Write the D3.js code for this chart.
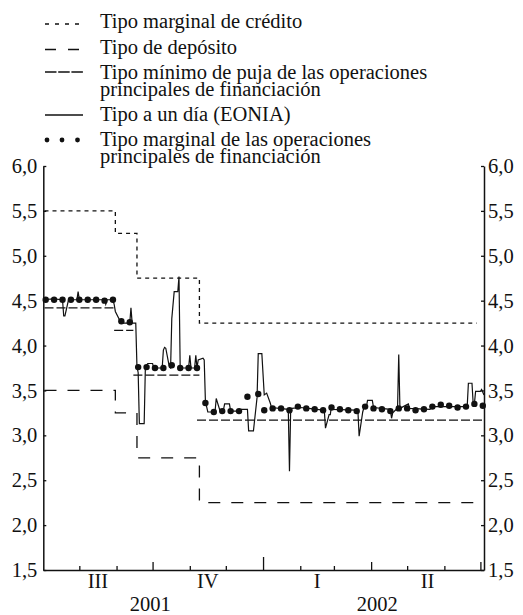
<!DOCTYPE html>
<html>
<head>
<meta charset="utf-8">
<script src="https://cdn.jsdelivr.net/npm/d3@7"></script>
<style>
  body { margin: 0; background: #fff; }
  svg text { font-family: "Liberation Serif", "Times New Roman", serif; font-size: 20.5px; fill: #111; }
</style>
</head>
<body>
<script>

// ---- data ----

// official rates: date of change and level (step lines)
var rateDates = ["2001-07-03", "2001-08-31", "2001-09-18", "2001-11-09", "2002-06-28"];
var lendingRate = [5.50, 5.25, 4.75, 4.25, 4.25];   // tipo marginal de crédito
var depositRate = [3.50, 3.25, 2.75, 2.25, 2.25];   // tipo de depósito

// minimum bid rate, drawn as separate horizontal pieces
var bidStart = ["2001-07-03", "2001-08-30", "2001-09-15", "2001-11-07"];
var bidEnd   = ["2001-08-30", "2001-09-15", "2001-11-09", "2002-07-04"];
var bidRate  = [4.42, 4.17, 3.67, 3.17];

// EONIA (daily, only the turning points)
var eonia = [
  ["2001-07-02", 4.51], ["2001-07-10", 4.52], ["2001-07-18", 4.51], ["2001-07-19", 4.33],
  ["2001-07-20", 4.33], ["2001-07-23", 4.51], ["2001-07-30", 4.51], ["2001-07-31", 4.60],
  ["2001-08-01", 4.51], ["2001-08-22", 4.51], ["2001-08-23", 4.46], ["2001-08-24", 4.51],
  ["2001-08-29", 4.51], ["2001-08-30", 4.46], ["2001-08-31", 4.38], ["2001-09-03", 4.30],
  ["2001-09-04", 4.25], ["2001-09-12", 4.25], ["2001-09-13", 4.42], ["2001-09-14", 4.25],
  ["2001-09-17", 4.25], ["2001-09-18", 3.76], ["2001-09-19", 3.70], ["2001-09-20", 3.13],
  ["2001-09-24", 3.13], ["2001-09-25", 3.76], ["2001-09-27", 3.80], ["2001-10-01", 3.80],
  ["2001-10-02", 3.75], ["2001-10-09", 3.75], ["2001-10-10", 3.95], ["2001-10-11", 3.98],
  ["2001-10-12", 3.97], ["2001-10-15", 3.76], ["2001-10-16", 3.75], ["2001-10-17", 4.30],
  ["2001-10-18", 4.45], ["2001-10-19", 4.60], ["2001-10-22", 4.60], ["2001-10-23", 4.77],
  ["2001-10-24", 3.75], ["2001-10-31", 3.75], ["2001-11-01", 3.89], ["2001-11-02", 3.75],
  ["2001-11-05", 3.75], ["2001-11-06", 3.89], ["2001-11-07", 3.75], ["2001-11-08", 3.84],
  ["2001-11-12", 3.86], ["2001-11-13", 3.84], ["2001-11-14", 3.38], ["2001-11-15", 3.32],
  ["2001-11-16", 3.26], ["2001-11-22", 3.26], ["2001-11-23", 3.41], ["2001-11-26", 3.28],
  ["2001-11-29", 3.28], ["2001-11-30", 3.35], ["2001-12-04", 3.35], ["2001-12-05", 3.27],
  ["2001-12-13", 3.27], ["2001-12-14", 3.29], ["2001-12-19", 3.29], ["2001-12-20", 3.05],
  ["2001-12-24", 3.05], ["2001-12-27", 3.42], ["2001-12-28", 3.91], ["2001-12-31", 3.91],
  ["2002-01-02", 3.45], ["2002-01-04", 3.47], ["2002-01-07", 3.36], ["2002-01-08", 3.31],
  ["2002-01-22", 3.29], ["2002-01-23", 2.60], ["2002-01-24", 3.28], ["2002-01-25", 3.30],
  ["2002-02-01", 3.31], ["2002-02-08", 3.30], ["2002-02-15", 3.29], ["2002-02-21", 3.28],
  ["2002-02-22", 3.08], ["2002-02-25", 3.23], ["2002-02-26", 3.23], ["2002-02-27", 3.33],
  ["2002-02-28", 3.29], ["2002-03-19", 3.28], ["2002-03-21", 3.27], ["2002-03-22", 2.99],
  ["2002-03-25", 3.26], ["2002-03-26", 3.31], ["2002-03-28", 3.31], ["2002-03-29", 3.39],
  ["2002-04-02", 3.39], ["2002-04-03", 3.31], ["2002-04-17", 3.29], ["2002-04-18", 3.19],
  ["2002-04-19", 3.25], ["2002-04-22", 3.29], ["2002-04-23", 3.30], ["2002-04-24", 3.90],
  ["2002-04-25", 3.30], ["2002-05-02", 3.35], ["2002-05-03", 3.30], ["2002-05-20", 3.29],
  ["2002-05-22", 3.32], ["2002-06-20", 3.32], ["2002-06-21", 3.58], ["2002-06-24", 3.58],
  ["2002-06-25", 3.35], ["2002-06-26", 3.35], ["2002-06-27", 3.49], ["2002-07-01", 3.49],
  ["2002-07-02", 3.51], ["2002-07-04", 3.45]
];

// marginal rate of the main refinancing operations (weekly)
var mroDates = [
  "2001-07-04", "2001-07-11", "2001-07-18", "2001-07-25", "2001-08-01", "2001-08-08",
  "2001-08-15", "2001-08-22", "2001-08-29", "2001-09-05", "2001-09-12", "2001-09-19",
  "2001-09-26", "2001-10-03", "2001-10-10", "2001-10-17", "2001-10-24", "2001-10-31",
  "2001-11-07", "2001-11-14", "2001-11-21", "2001-11-28", "2001-12-05", "2001-12-12",
  "2001-12-19", "2001-12-28",
  "2002-01-02", "2002-01-09", "2002-01-16", "2002-01-23", "2002-01-30", "2002-02-06",
  "2002-02-13", "2002-02-20", "2002-02-27", "2002-03-06", "2002-03-13", "2002-03-20",
  "2002-03-27", "2002-04-03", "2002-04-10", "2002-04-17", "2002-04-24", "2002-05-01",
  "2002-05-08", "2002-05-15", "2002-05-22", "2002-05-29", "2002-06-05", "2002-06-12",
  "2002-06-19", "2002-06-26", "2002-07-03"
];
var mroRate = [
  4.51, 4.51, 4.51, 4.51, 4.51, 4.51,
  4.51, 4.50, 4.51, 4.27, 4.26, 3.76,
  3.76, 3.75, 3.75, 3.78, 3.75, 3.75,
  3.75, 3.36, 3.26, 3.27, 3.27, 3.27,
  3.43, 3.46,
  3.28, 3.30, 3.30, 3.28, 3.32, 3.30,
  3.29, 3.28, 3.31, 3.29, 3.28, 3.27,
  3.32, 3.30, 3.29, 3.27, 3.30, 3.30,
  3.28, 3.29, 3.32, 3.34, 3.33, 3.31,
  3.32, 3.35, 3.33
];

var yTicks = [1.5, 2.0, 2.5, 3.0, 3.5, 4.0, 4.5, 5.0, 5.5, 6.0];
var quarterLabels = ["III", "IV", "I", "II"];
var quarterStarts = ["2001-07-02", "2001-10-01", "2002-01-01", "2002-04-01", "2002-07-04"];
var yearLabels = ["2001", "2002"];
var yearCenters = ["2001-09-29", "2002-04-06"];

var legendText = [
  ["Tipo marginal de crédito"],
  ["Tipo de depósito"],
  ["Tipo mínimo de puja de las operaciones", "principales de financiación"],
  ["Tipo a un día (EONIA)"],
  ["Tipo marginal de las operaciones", "principales de financiación"]
];

// ---- layout ----
var width = 523, height = 615;
var plotLeft = 43.3, plotRight = 484, plotTop = 166, plotBottom = 570;
var ink = "#111";

var parse = d3.timeParse("%Y-%m-%d");

var x = d3.scaleTime()
          .domain([parse("2001-07-02"), parse("2002-07-04")])
          .range([plotLeft, plotRight]);

var y = d3.scaleLinear()
          .domain([1.5, 6])
          .range([plotBottom, plotTop]);

var svg = d3.select("body")
            .append("svg")
            .attr("width", width)
            .attr("height", height);

var fmt = function(d) { return d3.format(".1f")(d).replace(".", ","); };

function styleAxis(g) {
    g.select(".domain").attr("stroke", ink).attr("stroke-width", 1.5);
    g.selectAll(".tick line").attr("stroke", ink).attr("stroke-width", 1.3);
    g.selectAll("text").attr("font-size", null).attr("font-family", null).attr("fill", ink);
}

// left axis, ticks point inward
svg.append("g")
   .attr("transform", "translate(" + plotLeft + ",0)")
   .call(d3.axisLeft(y).tickValues(yTicks).tickSizeInner(-3).tickSizeOuter(0).tickPadding(6).tickFormat(fmt))
   .call(styleAxis);

// right axis
svg.append("g")
   .attr("transform", "translate(" + plotRight + ",0)")
   .call(d3.axisRight(y).tickValues(yTicks).tickSizeInner(-3).tickSizeOuter(0).tickPadding(4).tickFormat(fmt))
   .call(styleAxis);

// bottom axis: monthly ticks, longer at quarters and at the new year
var months = d3.timeMonth.range(parse("2001-08-01"), parse("2002-07-02"));
svg.append("g")
   .attr("transform", "translate(0," + plotBottom + ")")
   .call(d3.axisBottom(x).tickValues(months).tickSizeInner(-4).tickSizeOuter(0).tickFormat(""))
   .call(styleAxis)
   .call(function(g) {
       g.selectAll(".tick line")
        .attr("y2", function(d) {
            if (d.getMonth() == 0) return -13;
            if (d.getMonth() % 3 == 0) return -8;
            return -4;
        });
   });

// quarter and year labels
svg.selectAll("text.quarter")
   .data(quarterLabels)
   .enter()
   .append("text")
   .attr("class", "quarter")
   .attr("text-anchor", "middle")
   .attr("x", function(d, i) { return (x(parse(quarterStarts[i])) + x(parse(quarterStarts[i + 1]))) / 2; })
   .attr("y", 588)
   .text(function(d) { return d; });

svg.selectAll("text.year")
   .data(yearLabels)
   .enter()
   .append("text")
   .attr("class", "year")
   .attr("text-anchor", "middle")
   .attr("x", function(d, i) { return x(parse(yearCenters[i])); })
   .attr("y", 611)
   .text(function(d) { return d; });

// ---- series ----
var step = d3.line()
             .x(function(d) { return x(d[0]); })
             .y(function(d) { return y(d[1]); })
             .curve(d3.curveStepAfter);

var lendingData = rateDates.map(function(d, i) { return [parse(d), lendingRate[i]]; });
var depositData = rateDates.map(function(d, i) { return [parse(d), depositRate[i]]; });

svg.append("path")
   .datum(lendingData)
   .attr("d", step)
   .attr("fill", "none")
   .attr("stroke", ink)
   .attr("stroke-width", 1.3)
   .attr("stroke-dasharray", "4,4");

svg.append("path")
   .datum(depositData)
   .attr("d", step)
   .attr("fill", "none")
   .attr("stroke", ink)
   .attr("stroke-width", 1.3)
   .attr("stroke-dasharray", "12,11");

svg.selectAll("line.bid")
   .data(bidRate)
   .enter()
   .append("line")
   .attr("class", "bid")
   .attr("x1", function(d, i) { return x(parse(bidStart[i])); })
   .attr("x2", function(d, i) { return x(parse(bidEnd[i])); })
   .attr("y1", function(d) { return y(d); })
   .attr("y2", function(d) { return y(d); })
   .attr("stroke", ink)
   .attr("stroke-width", 1.3)
   .attr("stroke-dasharray", "9,3");

var eoniaLine = d3.line()
                  .x(function(d) { return x(parse(d[0])); })
                  .y(function(d) { return y(d[1]); });

svg.append("path")
   .datum(eonia)
   .attr("d", eoniaLine)
   .attr("fill", "none")
   .attr("stroke", ink)
   .attr("stroke-width", 1.2);

svg.selectAll("circle.mro")
   .data(mroRate)
   .enter()
   .append("circle")
   .attr("class", "mro")
   .attr("cx", function(d, i) { return x(parse(mroDates[i])); })
   .attr("cy", function(d) { return y(d); })
   .attr("r", 3.2)
   .style("fill", ink);

// ---- legend ----
var lx1 = 45, lx2 = 83, tx = 100;
var sampleY = [24, 49.5, 72, 115, 140];
var textY = [[28], [53.5], [78.5, 95.5], [120.5], [146, 163]];
var sampleDash = ["4,6", "11,12", "11.5,1.7", null];

var legend = svg.append("g").attr("class", "legend");

sampleDash.forEach(function(dash, i) {
    legend.append("line")
          .attr("x1", lx1).attr("x2", lx2)
          .attr("y1", sampleY[i]).attr("y2", sampleY[i])
          .attr("stroke", ink)
          .attr("stroke-width", 1.3)
          .attr("stroke-dasharray", dash);
});

[47, 62, 77.5].forEach(function(cx) {
    legend.append("circle")
          .attr("cx", cx).attr("cy", sampleY[4])
          .attr("r", 2.4)
          .style("fill", ink);
});

legendText.forEach(function(lines, i) {
    lines.forEach(function(t, j) {
        legend.append("text")
              .attr("x", tx)
              .attr("y", textY[i][j])
              .text(t);
    });
});

</script>
</body>
</html>
